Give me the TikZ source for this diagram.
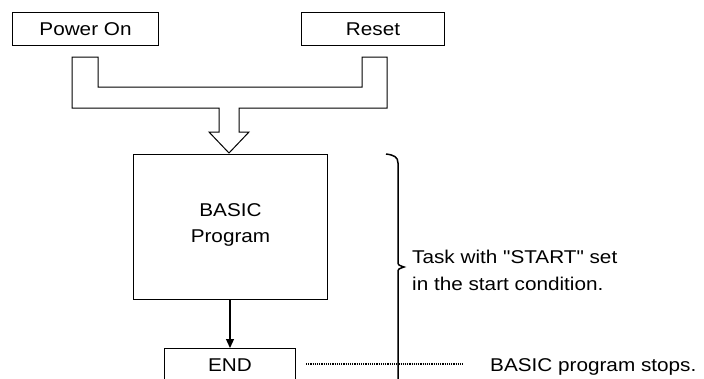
\documentclass[tikz,border=0pt]{standalone}
\usepackage{fontspec}
\setmainfont[FakeStretch=1.12, Ligatures=TeXOff]{Liberation Sans}
\usetikzlibrary{arrows.meta}
\begin{document}
\begin{tikzpicture}[x=1pt,y=-1pt,
  every node/.style={font=\fontsize{18.5}{26.5}\selectfont, inner sep=0pt},
  box/.style={draw, line width=1pt, anchor=north west},
  txt/.style={anchor=base west},
  fork/.style={draw, line width=1pt, line join=miter},
  dotline/.style={line width=1.4pt, dash pattern=on 1.2pt off 1pt}]
\useasboundingbox (0,0) rectangle (704,378);
\clip (0,0) rectangle (704,378);
% top boxes
\node[box, minimum width=146pt, minimum height=33pt] (power) at (12,12) {};
\node at (power.center) {Power On};
\node[box, minimum width=143pt, minimum height=33pt] (reset) at (301,12) {};
\node at (reset.center) {Reset};
% fork arrow
\draw[fork] (72,57) -- (98,57) -- (98,87) -- (362,87) -- (362,57) -- (387,57)
  -- (387,108) -- (239,108) -- (239,132) -- (249,132) -- (229,153)
  -- (209,132) -- (219,132) -- (219,108) -- (72,108) -- cycle;
% BASIC program box
\node[box, minimum width=194pt, minimum height=145pt] (basic) at (133,154) {};
\node[align=center] (basictxt) at ([yshift=2pt]basic.center) {BASIC\\Program};
% END box
\node[box, minimum width=131pt, minimum height=45pt] (end) at (164,348) {};
\node[anchor=base] (endtxt) at (230,371) {END};
\draw[line width=1.2pt, -{Triangle[length=9pt,width=8pt]}] (basic.south -| end.north) -- (end.north);
% brace
\draw[line width=1.5pt] (386,154) .. controls (394,155) and (398,157) .. (398,163)
  -- (398,261) .. controls (398,265) .. (404,267)
  .. controls (398,269) .. (398,273) -- (398,390);
\node[txt] (task1) at (412,263) {Task with "START" set};
\node[txt] (task2) at (412,290) {in the start condition.};
% dotted line and stop note
\coordinate (dotend) at (463,364);
\draw[dotline] (end.east |- dotend) ++(10,0) -- (dotend);
\node[txt] (stops) at (490,371) {BASIC program stops.};
\end{tikzpicture}
\end{document}
